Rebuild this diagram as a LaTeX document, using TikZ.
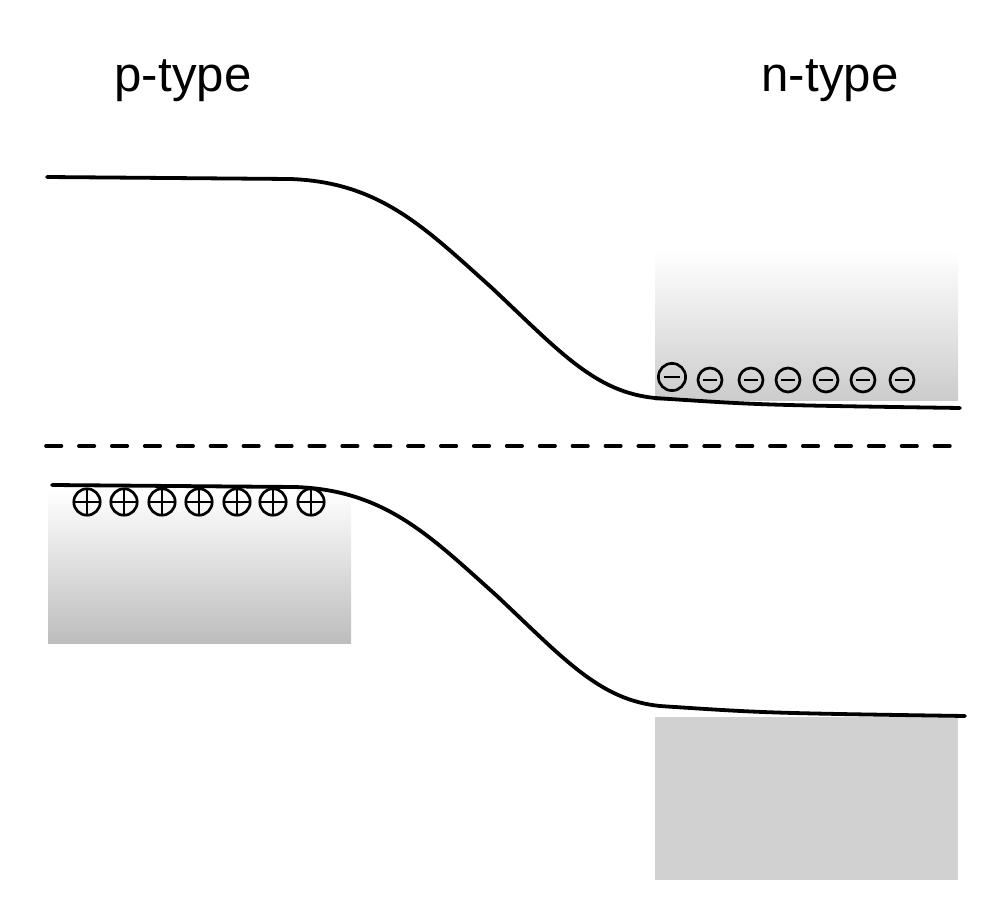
\documentclass[tikz,border=0pt]{standalone}
\usepackage{fontspec}
\setmainfont{Liberation Sans}
\begin{document}
\begin{tikzpicture}[x=0.025cm, y=-0.025cm]

		\tikzset{
			band/.style={line width=2.7pt, line cap=round},
			fermi/.style={line width=2.6pt, line cap=round, dash pattern=on 11pt off 12.4pt},
			carrier/.style={line width=1.9pt},
			label/.style={font=\fontsize{35}{40}\selectfont, anchor=base}
		}
		\newcommand{\hole}[1]{
			\draw[carrier] #1 circle (0.33cm);
			\draw[carrier] #1 ++(-0.33cm,0) -- ++(0.66cm,0);
			\draw[carrier] #1 ++(0,-0.33cm) -- ++(0,0.66cm);
		}
		\newcommand{\electron}[2]{
			\draw[carrier] #1 circle (#2);
			\draw[carrier] #1 ++(-0.6*#2,0) -- ++(1.2*#2,0);
		}
		\newcommand{\bandcurve}{(47,177) -- (290,179) .. controls (380,182) and (425,228) .. (492,288)
			.. controls (560,352) and (595,392) .. (655,398) .. controls (760,405) .. (960,408)}

		\useasboundingbox (0,0) rectangle (1008,920);

		% Carrier regions
		\shade[top color=white, bottom color=black!20] (655,250) rectangle (958,400);
		\shade[top color=white, bottom color=black!26] (48,490) rectangle (351,643);
		\fill[black!18] (655,717) rectangle (958,880);

		% Conduction band
		\draw[band] \bandcurve;

		% Valence band
		\begin{scope}[shift={(5,308)}]
			\draw[band] \bandcurve;
		\end{scope}

		% Fermi level
		\coordinate (EFleft) at (46,446);
		\coordinate (EFright) at (966,446);
		\draw[fermi] (EFleft) -- (EFright);

		% Electrons
		\electron{(672,377)}{0.34cm}
		\foreach \x in {710,751,788,826,863,902}{
			\electron{(\x,380)}{0.3cm}
		}

		% Holes
		\foreach \x in {87,124,162,199,237,273,311}{
			\hole{(\x,502)}
		}

		% Labels
		\node[label] (ptype) at (183,92) {p-type};
		\node[label] (ntype) at (830,92) {n-type};

	\end{tikzpicture}
\end{document}
